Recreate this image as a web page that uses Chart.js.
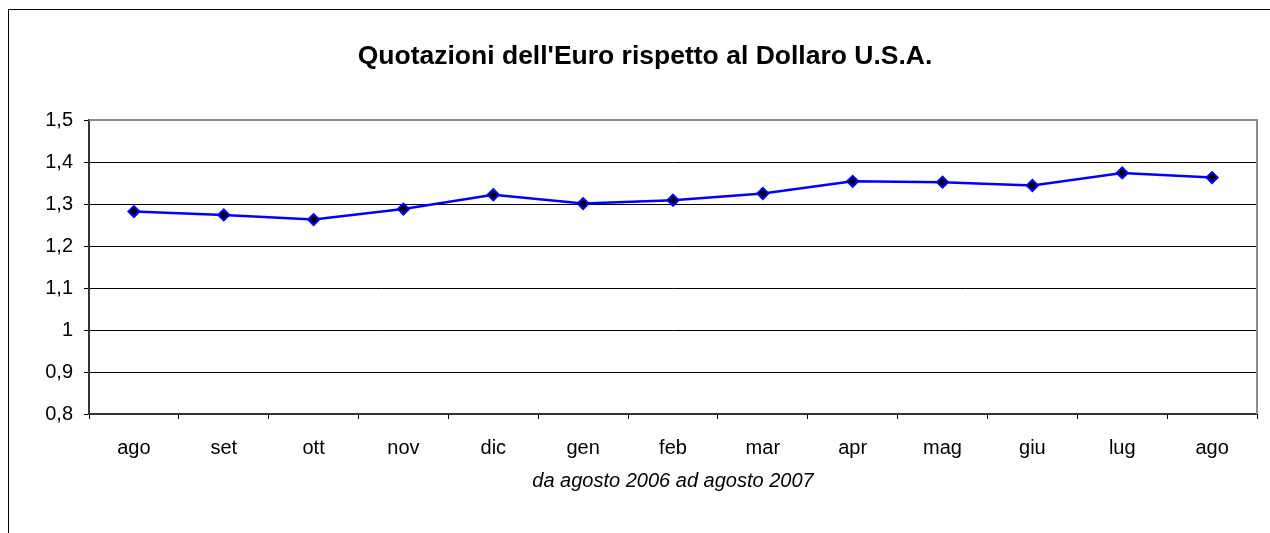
<!DOCTYPE html>
<html>
<head>
<meta charset="utf-8">
<script src="https://cdn.jsdelivr.net/npm/chart.js@4/dist/chart.umd.min.js"></script>
<style>
  html, body { margin: 0; padding: 0; background: #fff; }
  #wrap { width: 1270px; height: 533px; position: relative; }
</style>
</head>
<body>
<div id="wrap"><canvas id="c" width="1270" height="533"></canvas></div>
<script>
const chartTitle = "Quotazioni dell'Euro rispetto al Dollaro U.S.A.";
const axisTitle = "da agosto 2006 ad agosto 2007";
const categories = ["ago", "set", "ott", "nov", "dic", "gen", "feb", "mar", "apr", "mag", "giu", "lug", "ago"];
const euroUsd = [1.282, 1.274, 1.263, 1.288, 1.322, 1.301, 1.309, 1.325, 1.354, 1.352, 1.344, 1.374, 1.363];
const yMin = 0.8, yMax = 1.5, yStep = 0.1;

Chart.defaults.font.family = "'Liberation Sans', Arial, sans-serif";
Chart.defaults.color = '#000';

const framePlugin = {
  id: 'frame',
  beforeDraw(chart) {
    const ctx = chart.ctx;
    ctx.save();
    ctx.fillStyle = '#fff';
    ctx.fillRect(0, 0, chart.width, chart.height);
    ctx.strokeStyle = '#000';
    ctx.lineWidth = 1;
    ctx.strokeRect(8.5, 9.5, chart.width + 20, chart.height + 20);
    ctx.restore();
  },
  beforeDatasetsDraw(chart) {
    const {ctx, chartArea: a} = chart;
    ctx.save();
    ctx.strokeStyle = '#8c8c8c';
    ctx.lineWidth = 2;
    ctx.beginPath();
    ctx.moveTo(a.left, a.top);
    ctx.lineTo(a.right, a.top);
    ctx.lineTo(a.right, a.bottom);
    ctx.stroke();
    ctx.restore();
  }
};

new Chart(document.getElementById('c'), {
  type: 'line',
  data: {
    labels: categories,
    datasets: [{
      data: euroUsd,
      borderColor: '#0000ff',
      borderWidth: 2.5,
      pointStyle: 'rectRot',
      pointRadius: 5.5,
      pointBackgroundColor: '#000',
      pointBorderColor: '#0000ff',
      pointBorderWidth: 2,
      tension: 0,
      fill: false
    }]
  },
  options: {
    responsive: false,
    animation: false,
    devicePixelRatio: 1,
    layout: { padding: { left: 33, right: 13, top: 0, bottom: 0 } },
    plugins: {
      legend: { display: false },
      tooltip: { enabled: false },
      title: {
        display: true,
        text: chartTitle,
        color: '#000',
        font: { size: 26.5, weight: 'bold', lineHeight: 1.2 },
        padding: { top: 41, bottom: 47.2 }
      }
    },
    scales: {
      x: {
        type: 'category',
        offset: true,
        afterFit(scale) { scale.height = 119; },
        grid: {
          offset: true,
          drawOnChartArea: false,
          drawTicks: true,
          tickLength: 5,
          tickColor: '#000',
          lineWidth: 1
        },
        border: { display: true, color: '#333', width: 2 },
        ticks: { padding: 17, font: { size: 20 }, color: '#000', maxRotation: 0, autoSkip: false },
        title: {
          display: true,
          text: axisTitle,
          color: '#000',
          font: { size: 20, style: 'italic' },
          padding: { top: 0, bottom: 40 }
        }
      },
      y: {
        min: yMin,
        max: yMax,
        afterFit(scale) { scale.width = 56; },
        grid: {
          color: (c) => (c.tick && Math.abs(c.tick.value - yMax) < 1e-6) ? 'rgba(0,0,0,0)' : '#000',
          lineWidth: 1,
          drawTicks: true,
          tickLength: 5,
          tickColor: '#000'
        },
        border: { display: true, color: '#333', width: 2 },
        ticks: {
          stepSize: yStep,
          padding: 11,
          font: { size: 20 },
          color: '#000',
          callback: (v) => String(Number(v.toFixed(1))).replace('.', ',')
        }
      }
    }
  },
  plugins: [framePlugin]
});
</script>
</body>
</html>
